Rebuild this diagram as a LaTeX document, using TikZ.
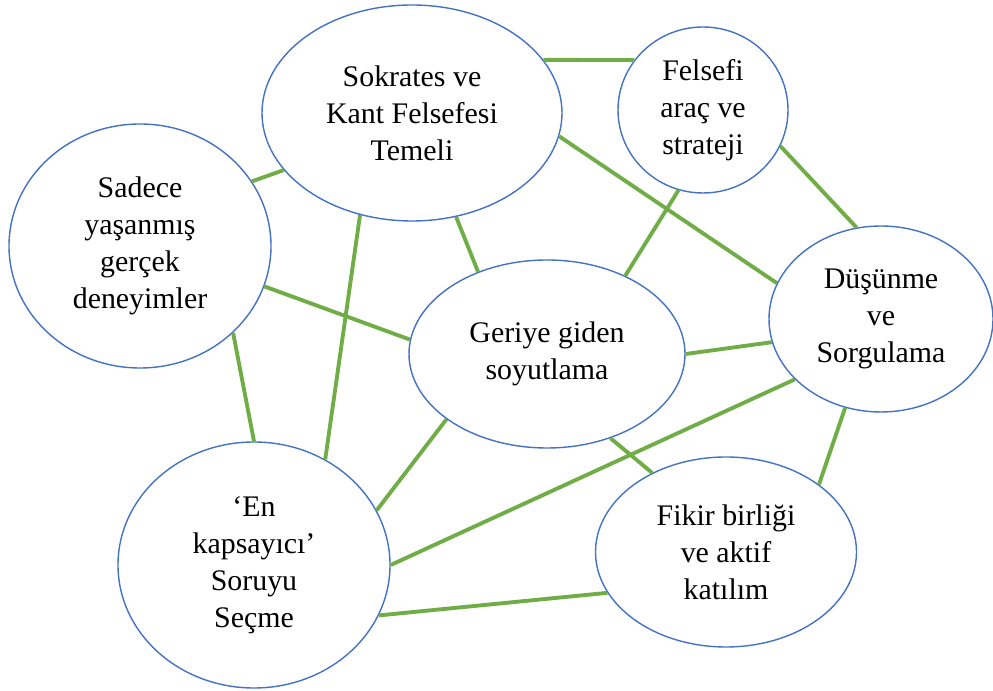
\documentclass[tikz,border=0pt]{standalone}
\usepackage{fontspec}
\setmainfont{Liberation Serif}
\usetikzlibrary{shapes.geometric}
\definecolor{ovalblue}{RGB}{68,114,196}
\definecolor{linkgreen}{RGB}{112,173,71}
\begin{document}
\begin{tikzpicture}[
  oval/.style={draw=ovalblue, line width=0.4pt, ellipse, inner sep=0pt, align=center, fill=white},
  link/.style={draw=linkgreen, line width=1.1pt},
  every node/.style={font=\fontsize{8.5}{10.5}\selectfont}
]
\useasboundingbox (0,0) rectangle (9.93,-6.91);
\node[oval, minimum width=3.00cm, minimum height=2.16cm] (sok) at (4.12,-1.13) {Sokrates ve\\Kant Felsefesi\\Temeli};
\node[oval, minimum width=1.70cm, minimum height=1.66cm] (fel) at (7.03,-1.10) {Felsefi\\araç ve\\strateji};
\node[oval, minimum width=2.62cm, minimum height=2.44cm] (sad) at (1.40,-2.46) {Sadece\\yaşanmış\\gerçek\\deneyimler};
\node[oval, minimum width=2.76cm, minimum height=1.88cm] (ger) at (5.47,-3.54) {Geriye giden\\soyutlama};
\node[oval, minimum width=2.24cm, minimum height=1.86cm] (dus) at (8.81,-3.19) {Düşünme\\ve\\Sorgulama};
\node[oval, minimum width=2.72cm, minimum height=2.46cm] (en) at (2.54,-5.65) {‘En\\kapsayıcı’\\Soruyu\\Seçme};
\node[oval, minimum width=2.61cm, minimum height=1.90cm] (fik) at (7.26,-5.52) {Fikir birliği\\ve aktif\\katılım};
\draw[link] (sok.22) -- (fel.144);
\draw[link] (sok.204) -- (sad.30);
\draw[link] (sok.351) -- (dus.161);
\draw[link] (sok.293) -- (ger.130);
\draw[link] (sok.243) -- (en.56);
\draw[link] (fel.253) -- (ger.45);
\draw[link] (fel.335) -- (dus.105);
\draw[link] (sad.342) -- (ger.174);
\draw[link] (sad.317) -- (en.90);
\draw[link] (ger.0) -- (dus.192);
\draw[link] (ger.213) -- (en.24);
\draw[link] (ger.307) -- (fik.133);
\draw[link] (dus.215) -- (en.0);
\draw[link] (dus.248) -- (fik.36);
\draw[link] (en.338) -- (fik.199);
\end{tikzpicture}
\end{document}
